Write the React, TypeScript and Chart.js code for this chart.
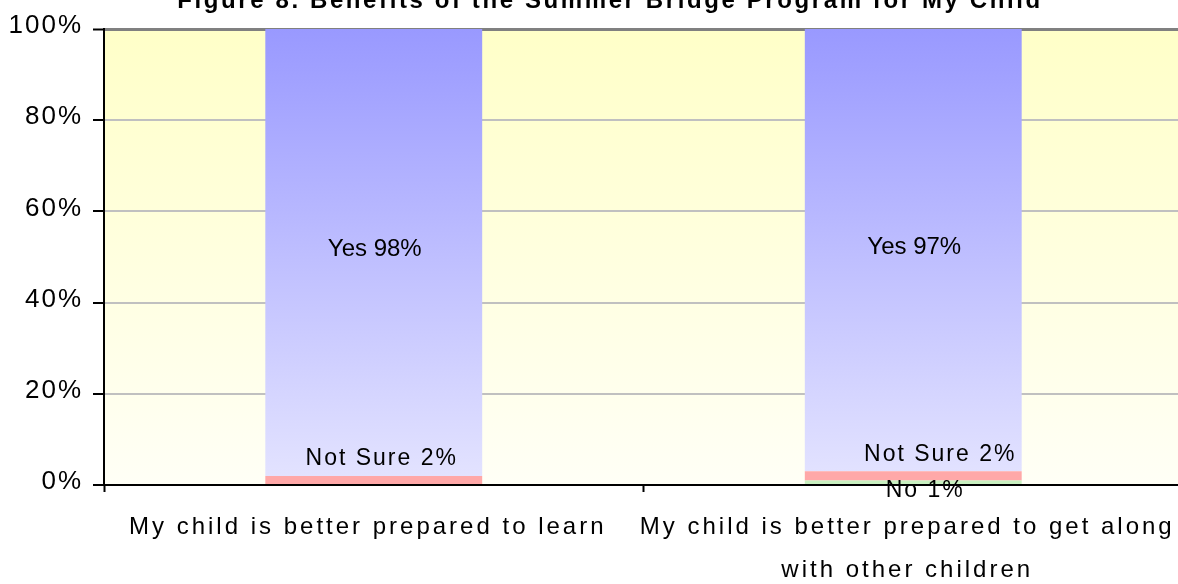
import React, { useEffect, useRef } from 'react';
import { Chart, registerables } from 'chart.js';

Chart.register(...registerables);

const TITLE = 'Figure 8. Benefits of the Summer Bridge Program for My Child';
const categories: string[][] = [
  ['My child is better prepared to learn'],
  ['My child is better prepared to get along', 'with other children'],
];
const noValues = [0, 1];
const notSureValues = [2, 2];
const yesValues = [98, 97];
const seriesNames = ['No', 'Not Sure', 'Yes'];
const yTickStep = 20;

const FONT = '"Liberation Sans", Arial, Helvetica, sans-serif';

const bgPlugin = {
  id: 'plotBg',
  beforeDraw(chart: any) {
    const { ctx, chartArea: a } = chart;
    if (!a) return;
    const g = ctx.createLinearGradient(0, a.top, 0, a.bottom);
    g.addColorStop(0, '#FFFFC8');
    g.addColorStop(1, '#FFFFF6');
    ctx.save();
    ctx.fillStyle = g;
    ctx.fillRect(a.left, a.top, a.right - a.left, a.bottom - a.top);
    ctx.restore();
    // spacing for the y axis labels (drawn before the bars)
    (ctx as any).letterSpacing = '2px';
  },
  afterDatasetsDraw(chart: any) {
    // spacing for the x axis labels (x axis drawn after the bars)
    (chart.ctx as any).letterSpacing = '3px';
  },
  afterDraw(chart: any) {
    (chart.ctx as any).letterSpacing = '0px';
  },
};

const labelNudgeX = [8, 27];

const labelPlugin = {
  id: 'segLabels',
  afterDraw(chart: any) {
    const ctx = chart.ctx;
    ctx.save();
    ctx.fillStyle = '#000';
    ctx.textAlign = 'center';
    ctx.textBaseline = 'middle';
    const metaNo = chart.getDatasetMeta(0);
    const metaNS = chart.getDatasetMeta(1);
    const metaYes = chart.getDatasetMeta(2);
    categories.forEach((_, i) => {
      const yes = metaYes.data[i];
      const ns = metaNS.data[i];
      const no = metaNo.data[i];
      (ctx as any).letterSpacing = '0px';
      ctx.font = `24px ${FONT}`;
      ctx.fillText(`${seriesNames[2]} ${yesValues[i]}%`, yes.x + 1, (yes.y + yes.base) / 2 - 3);
      ctx.font = `23px ${FONT}`;
      (ctx as any).letterSpacing = '2px';
      ctx.fillText(`${seriesNames[1]} ${notSureValues[i]}%`, ns.x + labelNudgeX[i], ns.y - 17);
      if (noValues[i] > 0) {
        ctx.fillText(`${seriesNames[0]} ${noValues[i]}%`, no.x + 12, no.base + 7);
      }
    });
    // Title (cut off at the top of the picture)
    (ctx as any).letterSpacing = '2.6px';
    ctx.font = `bold 24px ${FONT}`;
    ctx.textBaseline = 'alphabetic';
    ctx.fillText(TITLE, chart.width / 2 + 18, 8);
    ctx.restore();
  },
};

export default function App() {
  const ref = useRef<HTMLCanvasElement | null>(null);
  useEffect(() => {
    if (!ref.current) return;
    Chart.defaults.font.family = FONT;
    const chart = new Chart(ref.current, {
      type: 'bar',
      data: {
        labels: categories,
        datasets: [
          {
            label: seriesNames[0],
            data: noValues,
            backgroundColor: '#C8F0C0',
            barPercentage: 0.402,
            categoryPercentage: 1,
          },
          {
            label: seriesNames[1],
            data: notSureValues,
            backgroundColor: '#FFA8A8',
            barPercentage: 0.402,
            categoryPercentage: 1,
          },
          {
            label: seriesNames[2],
            data: yesValues,
            backgroundColor: (c: any) => {
              const a = c.chart.chartArea;
              if (!a) return '#B0B0FF';
              const g = c.chart.ctx.createLinearGradient(0, a.top, 0, a.bottom);
              g.addColorStop(0, '#9999FF');
              g.addColorStop(1, '#E4E4FF');
              return g;
            },
            barPercentage: 0.402,
            categoryPercentage: 1,
          },
        ],
      },
      options: {
        animation: false,
        responsive: false,
        layout: { padding: { top: 29, right: 1, left: 0, bottom: 0 } },
        plugins: {
          legend: { display: false },
          tooltip: { enabled: false },
          title: { display: false },
        },
        scales: {
          x: {
            stacked: true,
            offset: true,
            grid: {
              z: 1,
              offset: true,
              drawOnChartArea: false,
              tickLength: 7,
              tickColor: '#000',
              tickWidth: 2,
            },
            border: { z: 1, color: '#000', width: 2 },
            ticks: {
              z: 1,
              autoSkip: false,
              maxRotation: 0,
              minRotation: 0,
              color: '#000',
              font: { family: FONT, size: 24, lineHeight: 1.8 },
              padding: 14,
              labelOffset: -6,
            },
            afterFit: (s: any) => {
              s.height = 99;
            },
          },
          y: {
            stacked: true,
            min: 0,
            max: 100,
            ticks: {
              stepSize: yTickStep,
              callback: (v: any) => `${v}%`,
              color: '#000',
              font: { family: FONT, size: 26 },
              padding: 10,
              labelOffset: -3,
            },
            grid: {
              color: (c: any) => (c.tick && c.tick.value === 100 ? '#808080' : '#C0C0C0'),
              lineWidth: (c: any) => (c.tick && c.tick.value === 100 ? 3 : 2),
              tickColor: '#000',
              tickWidth: 2,
              tickLength: 11,
            },
            border: { color: '#000', width: 2 },
            afterFit: (s: any) => {
              s.width = 104;
            },
          },
        },
      },
      plugins: [bgPlugin, labelPlugin],
    });
    return () => chart.destroy();
  }, []);
  return (
    <div
      style={{
        position: 'fixed',
        left: 0,
        top: 0,
        width: 1178,
        height: 584,
        overflow: 'hidden',
        background: '#fff',
      }}
    >
      <canvas ref={ref} width={1184} height={584} style={{ display: 'block' }} />
    </div>
  );
}
